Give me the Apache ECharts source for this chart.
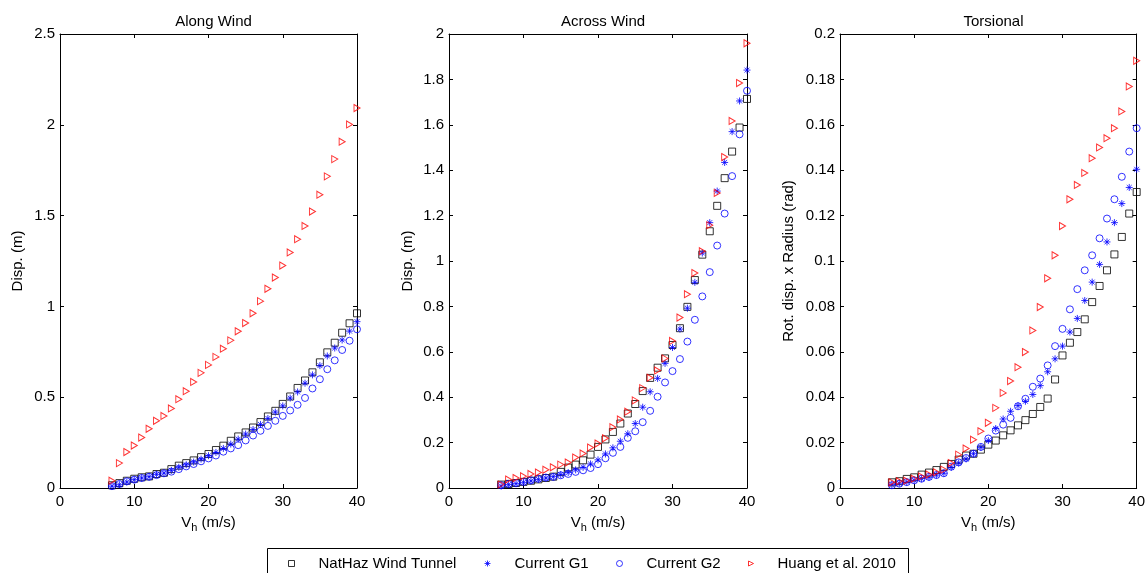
<!DOCTYPE html>
<html>
<head>
<meta charset="utf-8">
<script src="https://cdn.jsdelivr.net/npm/echarts@6/dist/echarts.min.js"></script>
<style>
html,body{margin:0;padding:0;background:#fff;}
#chart{width:1148px;height:573px;}
</style>
</head>
<body>
<div id="chart"></div>
<script>
// ---- Data ----
const speeds = [7,8,9,10,11,12,13,14,15,16,17,18,19,20,21,22,23,24,25,26,27,28,29,30,31,32,33,34,35,36,37,38,39,40];
const seriesNames = ['NatHaz Wind Tunnel', 'Current G1', 'Current G2', 'Huang et al. 2010'];
const panelTitles = ['Along Wind', 'Across Wind', 'Torsional'];
const yAxisNames = ['Disp. (m)', 'Disp. (m)', 'Rot. disp. x Radius (rad)'];
const yMax = [2.5, 2, 0.2];
const yStep = [0.5, 0.2, 0.02];
const xTicks = [0, 10, 20, 30, 40];

const alongNatHaz = [0.015,0.027,0.040,0.051,0.059,0.064,0.077,0.084,0.104,0.123,0.137,0.152,0.170,0.187,0.209,0.233,0.260,0.284,0.306,0.333,0.363,0.394,0.425,0.463,0.504,0.551,0.592,0.637,0.692,0.747,0.800,0.855,0.907,0.962];
const alongG1 = [0.010,0.018,0.033,0.046,0.055,0.062,0.075,0.082,0.097,0.114,0.128,0.143,0.159,0.178,0.196,0.218,0.242,0.269,0.297,0.322,0.350,0.383,0.418,0.452,0.495,0.529,0.577,0.623,0.674,0.727,0.771,0.815,0.864,0.916];
const alongG2 = [0.010,0.022,0.037,0.046,0.055,0.062,0.071,0.081,0.090,0.104,0.119,0.132,0.147,0.163,0.179,0.200,0.218,0.236,0.262,0.289,0.315,0.342,0.370,0.397,0.427,0.458,0.496,0.548,0.599,0.654,0.703,0.760,0.811,0.874];
const alongHuang = [0.040,0.137,0.198,0.234,0.278,0.326,0.370,0.397,0.438,0.489,0.533,0.584,0.634,0.678,0.722,0.767,0.813,0.863,0.908,0.962,1.029,1.097,1.159,1.225,1.297,1.370,1.443,1.522,1.615,1.716,1.811,1.907,2.002,2.092];

const acrossNatHaz = [0.015,0.018,0.022,0.027,0.032,0.038,0.044,0.050,0.071,0.090,0.103,0.122,0.147,0.181,0.214,0.247,0.284,0.328,0.370,0.427,0.485,0.530,0.571,0.630,0.704,0.798,0.916,1.028,1.131,1.243,1.365,1.482,1.588,1.714];
const acrossG1 = [0.009,0.015,0.019,0.025,0.031,0.038,0.044,0.050,0.059,0.068,0.080,0.091,0.106,0.124,0.150,0.177,0.206,0.239,0.284,0.356,0.424,0.483,0.549,0.619,0.700,0.792,0.906,1.035,1.169,1.308,1.434,1.570,1.705,1.841];
const acrossG2 = [0.012,0.018,0.022,0.027,0.034,0.041,0.046,0.049,0.056,0.062,0.071,0.078,0.088,0.105,0.131,0.155,0.181,0.221,0.250,0.290,0.340,0.402,0.465,0.515,0.568,0.645,0.741,0.844,0.951,1.068,1.209,1.374,1.558,1.750];
const acrossHuang = [0.016,0.037,0.044,0.052,0.062,0.068,0.080,0.091,0.103,0.112,0.134,0.152,0.178,0.196,0.219,0.268,0.302,0.336,0.386,0.440,0.486,0.518,0.571,0.648,0.751,0.854,0.947,1.043,1.158,1.300,1.458,1.617,1.784,1.959];

const torNatHaz = [0.0025,0.0030,0.0040,0.0047,0.0059,0.0068,0.0079,0.0093,0.0106,0.0125,0.0143,0.0151,0.0169,0.0191,0.0209,0.0232,0.0254,0.0276,0.0299,0.0326,0.0357,0.0394,0.0478,0.0584,0.0640,0.0687,0.0743,0.0819,0.0890,0.0959,0.1029,0.1106,0.1209,0.1304];
const torG1 = [0.0015,0.0021,0.0026,0.0034,0.0041,0.0047,0.0057,0.0065,0.0091,0.0110,0.0128,0.0151,0.0179,0.0209,0.0262,0.0304,0.0338,0.0363,0.0382,0.0412,0.0451,0.0512,0.0569,0.0625,0.0687,0.0747,0.0826,0.0907,0.0985,0.1084,0.1169,0.1253,0.1324,0.1404];
const torG2 = [0.0012,0.0019,0.0026,0.0034,0.0041,0.0049,0.0057,0.0065,0.0094,0.0113,0.0132,0.0151,0.0181,0.0218,0.0253,0.0279,0.0309,0.0360,0.0393,0.0446,0.0482,0.0540,0.0625,0.0701,0.0787,0.0876,0.0959,0.1025,0.1100,0.1187,0.1272,0.1371,0.1482,0.1585];
const torHuang = [0.0025,0.0030,0.0032,0.0041,0.0051,0.0059,0.0069,0.0081,0.0110,0.0147,0.0174,0.0213,0.0250,0.0287,0.0353,0.0419,0.0471,0.0532,0.0599,0.0694,0.0797,0.0924,0.1025,0.1154,0.1272,0.1335,0.1388,0.1453,0.1500,0.1541,0.1585,0.1659,0.1769,0.1882];

const panelData = [
  [alongNatHaz, alongG1, alongG2, alongHuang],
  [acrossNatHaz, acrossG1, acrossG2, acrossHuang],
  [torNatHaz, torG1, torG2, torHuang]
];

// ---- Styles ----
const FONT = "'Liberation Sans', Arial, sans-serif";
const markerStyles = [
  {symbol: 'rect', size: 7, color: '#000000'},
  {symbol: 'path://M5,0L5,10M0,5L10,5M1.5,1.5L8.5,8.5M8.5,1.5L1.5,8.5', size: 7, color: '#0000ff'},
  {symbol: 'circle', size: 7, color: '#0000ff'},
  {symbol: 'path://M0,0L10,5L0,10Z', size: [6, 7], color: '#ff0000'}
];
const grids = [
  {left: 60, top: 34, width: 297, height: 454},
  {left: 449, top: 34, width: 298, height: 454},
  {left: 840, top: 34, width: 297, height: 454}
];
const yNameGaps = [35, 34, 44];

const chart = echarts.init(document.getElementById('chart'), null, {renderer: 'canvas'});

const option = {
  backgroundColor: '#ffffff',
  animation: false,
  textStyle: {fontFamily: FONT},
  title: [], grid: [], xAxis: [], yAxis: [], series: [], legend: [],
  graphic: [{
    type: 'rect', left: 265, top: 546,
    shape: {width: 641, height: 26},
    style: {fill: 'none', stroke: '#000', lineWidth: 1},
    z: -1
  }]
};

grids.forEach((g, i) => {
  option.grid.push(g);
  option.title.push({
    text: panelTitles[i],
    left: g.left + g.width / 2, top: 9, textAlign: 'center',
    textStyle: {fontFamily: FONT, fontSize: 15, fontWeight: 'normal', color: '#000'}
  });
  const axLine = {show: true, onZero: false, lineStyle: {color: '#000', width: 1}};
  option.xAxis.push({
    type: 'value', gridIndex: i, position: 'bottom', min: 0, max: 40, interval: 10,
    axisLine: axLine, axisTick: {inside: true, length: 4, lineStyle: {color: '#000'}},
    splitLine: {show: false},
    axisLabel: {fontFamily: FONT, fontSize: 15, color: '#000', margin: 6},
    name: 'V{sub|h} (m/s)', nameLocation: 'middle', nameGap: 25,
    nameTextStyle: {fontFamily: FONT, fontSize: 15, color: '#000',
      rich: {sub: {fontFamily: FONT, fontSize: 11, color: '#000', padding: [9, 0, 0, 0]}}}
  });
  option.xAxis.push({
    type: 'value', gridIndex: i, position: 'top', min: 0, max: 40, interval: 10,
    axisLine: axLine, axisTick: {inside: true, length: 4, lineStyle: {color: '#000'}},
    splitLine: {show: false}, axisLabel: {show: false}
  });
  option.yAxis.push({
    type: 'value', gridIndex: i, position: 'left', min: 0, max: yMax[i], interval: yStep[i],
    axisLine: axLine, axisTick: {inside: true, length: 4, lineStyle: {color: '#000'}},
    splitLine: {show: false},
    axisLabel: {fontFamily: FONT, fontSize: 15, color: '#000', margin: 5},
    name: yAxisNames[i], nameLocation: 'middle', nameGap: yNameGaps[i],
    nameTextStyle: {fontFamily: FONT, fontSize: 15, color: '#000'}
  });
  option.yAxis.push({
    type: 'value', gridIndex: i, position: 'right', min: 0, max: yMax[i], interval: yStep[i],
    axisLine: axLine, axisTick: {inside: true, length: 4, lineStyle: {color: '#000'}},
    splitLine: {show: false}, axisLabel: {show: false}
  });

  panelData[i].forEach((vals, s) => {
    const m = markerStyles[s];
    option.series.push({
      name: seriesNames[s],
      type: 'scatter',
      xAxisIndex: i * 2, yAxisIndex: i * 2,
      symbol: m.symbol, symbolSize: m.size,
      color: m.color,
      itemStyle: {color: 'rgba(0,0,0,0)', borderColor: m.color, borderWidth: 1},
      emphasis: {disabled: true},
      data: speeds.map((v, k) => [v, vals[k]])
    });
  });
});

// legends, one per entry so each sits where the reference puts it
const legendLefts = [283, 479, 611, 743];
seriesNames.forEach((n, s) => {
  const m = markerStyles[s];
  option.legend.push({
    data: [{name: n, icon: m.symbol,
      itemStyle: {color: 'rgba(0,0,0,0)', borderColor: m.color, borderWidth: 1}}],
    left: legendLefts[s], top: 551,
    itemWidth: s === 3 ? 5 : 6, itemHeight: 6, itemGap: 0,
    textStyle: {fontFamily: FONT, fontSize: 15, color: '#000', padding: [0, 0, 0, 19]},
    selectedMode: false
  });
});

chart.setOption(option);
</script>
</body>
</html>
